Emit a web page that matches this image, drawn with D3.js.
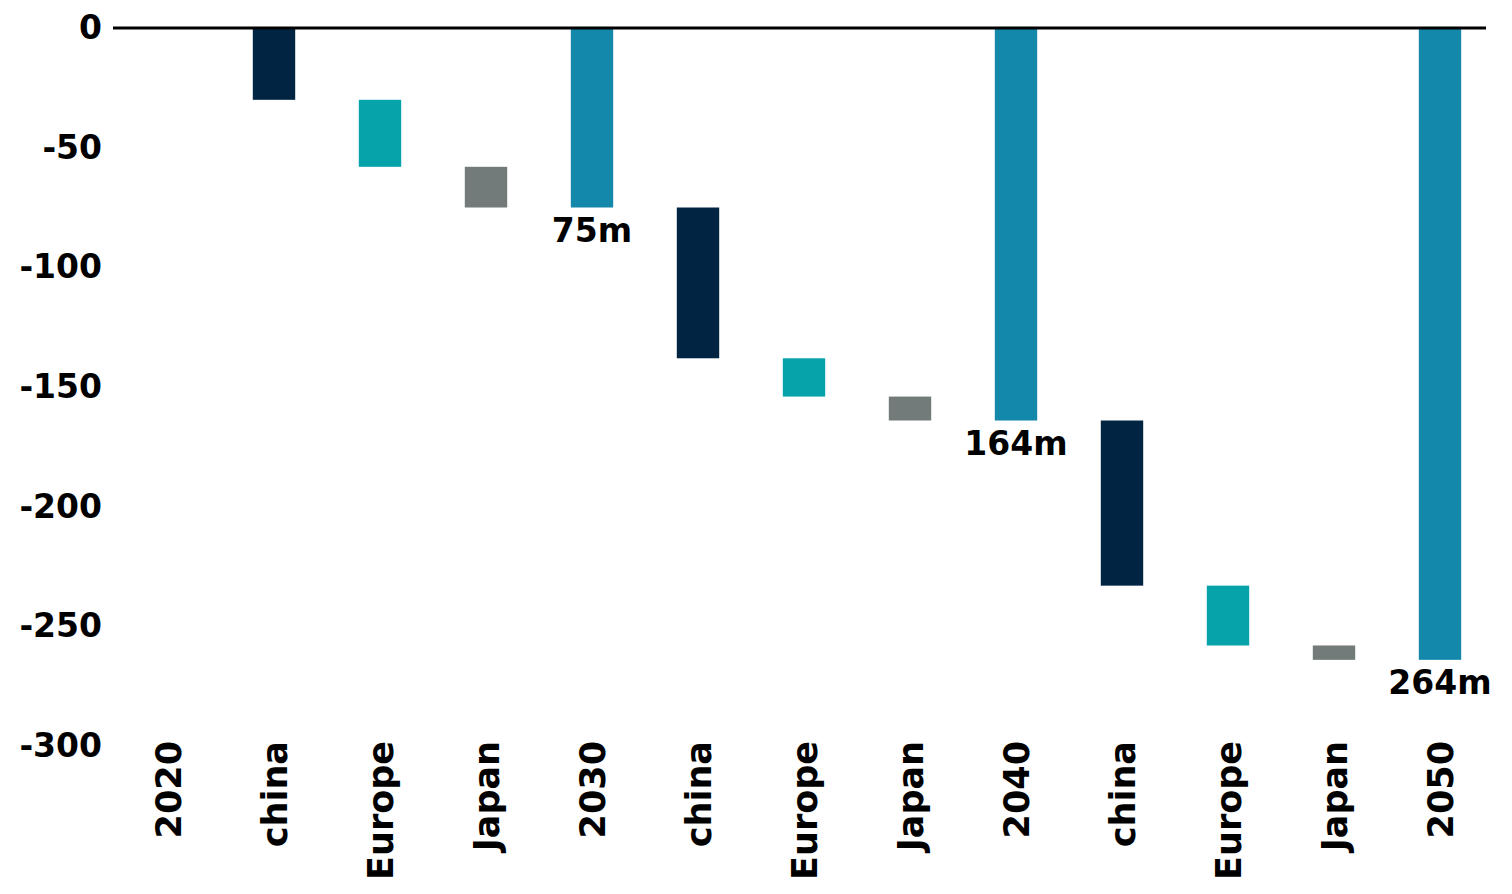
<!DOCTYPE html>
<html>
<head>
<meta charset="utf-8">
<script src="https://cdn.jsdelivr.net/npm/d3@7"></script>
<style>
  html, body { margin: 0; padding: 0; background: #fff; }
  svg { display: block; }
  text { font-family: "DejaVu Sans", "Liberation Sans", sans-serif; font-weight: bold; fill: #000; }
</style>
</head>
<body>
<svg id="chart" width="1512" height="894"></svg>
<script>
// Waterfall steps: totals reset to their own value, regional steps add a delta.
const categories = ["2020", "china", "Europe", "Japan", "2030", "china", "Europe", "Japan", "2040", "china", "Europe", "Japan", "2050"];
const kinds      = ["total", "china", "europe", "japan", "total", "china", "europe", "japan", "total", "china", "europe", "japan", "total"];
const values     = [0, -30, -28, -17, -75, -63, -16, -10, -164, -69, -25, -6, -264];
const totalLabels = ["", "", "", "", "75m", "", "", "", "164m", "", "", "", "264m"];
const yTicks = [0, -50, -100, -150, -200, -250, -300];

const colors = { total: "#1488ab", china: "#002442", europe: "#07a3ab", japan: "#737a7a" };

// Compute each bar's start and end along the running cumulative sum.
let running = 0;
const bars = categories.map((c, i) => {
  let y0, y1;
  if (kinds[i] === "total") {
    y0 = 0; y1 = values[i]; running = values[i];
  } else {
    y0 = running; y1 = running + values[i]; running = y1;
  }
  return { key: i, name: c, kind: kinds[i], y0, y1, label: totalLabels[i] };
});

const svg = d3.select("#chart");

const x = d3.scaleBand()
  .domain(bars.map(d => d.key))
  .range([115, 1493])
  .paddingInner(0.6)
  .paddingOuter(0.3);

const y = d3.scaleLinear().domain([-300, 0]).range([746, 28]);

// Bars
svg.append("g").selectAll("rect")
  .data(bars.filter(d => d.y0 !== d.y1))
  .join("rect")
  .attr("x", d => x(d.key))
  .attr("width", x.bandwidth())
  .attr("y", d => y(Math.max(d.y0, d.y1)))
  .attr("height", d => Math.abs(y(d.y0) - y(d.y1)))
  .attr("fill", d => colors[d.kind]);

// Zero line
svg.append("line")
  .attr("x1", 113).attr("x2", 1486)
  .attr("y1", y(0)).attr("y2", y(0))
  .attr("stroke", "#000").attr("stroke-width", 3);

// Y axis labels
const yAxis = d3.axisLeft(y).tickValues(yTicks).tickSize(0).tickPadding(0).tickFormat(d3.format("d"));
const gy = svg.append("g").attr("transform", "translate(102,0)").call(yAxis);
gy.select(".domain").remove();
gy.selectAll("text")
  .attr("font-size", 33)
  .attr("font-family", "DejaVu Sans")
  .attr("font-weight", "bold")
  .attr("fill", "#000")
  .text(d => d === 0 ? "0" : "-" + Math.abs(d));

// Category labels, rotated
const xAxis = d3.axisBottom(x).tickSize(0).tickFormat(k => categories[k]);
const gx = svg.append("g").attr("transform", "translate(0,741)").call(xAxis);
gx.select(".domain").remove();
gx.selectAll("text")
  .attr("font-size", 35)
  .attr("font-family", "DejaVu Sans")
  .attr("font-weight", "bold")
  .attr("fill", "#000")
  .attr("text-anchor", "end")
  .attr("transform", "rotate(-90)")
  .attr("x", 0)
  .attr("y", 0)
  .attr("dy", "0.36em");

// Total value labels under the total bars
svg.append("g").selectAll("text")
  .data(bars.filter(d => d.label))
  .join("text")
  .attr("x", d => x(d.key) + x.bandwidth() / 2)
  .attr("y", d => y(d.y1) + 34)
  .attr("text-anchor", "middle")
  .attr("font-size", 33)
  .text(d => d.label);
</script>
</body>
</html>
